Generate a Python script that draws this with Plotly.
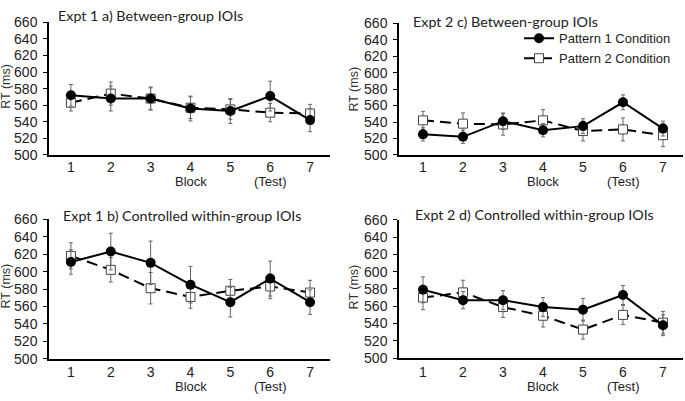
import plotly.graph_objects as go

blocks = [1, 2, 3, 4, 5, 6, 7]
tick_labels = ["1", "2", "3", "4", "5", "6", "7"]
sub_labels = [(4, "Block"), (6, "(Test)")]
y_ticks = [500, 520, 540, 560, 580, 600, 620, 640, 660]

# Expt 1 a) Between-group IOIs
a_p1 = [572, 568, 568, 556, 553, 571, 542]
a_p1_err = [13, 15, 14, 15, 15, 18, 14]
a_p2 = [563, 574, 568, 557, 555, 551, 550]
a_p2_err = [10, 14, 13, 13, 12, 11, 11]

# Expt 2 c) Between-group IOIs
c_p1 = [525, 522, 541, 530, 535, 564, 532]
c_p1_err = [8, 8, 10, 8, 9, 9, 9]
c_p2 = [542, 538, 537, 542, 529, 531, 524]
c_p2_err = [11, 13, 13, 13, 12, 14, 14]

# Expt 1 b) Controlled within-group IOIs
b_p1 = [611, 623, 610, 585, 565, 592, 565]
b_p1_err = [14, 21, 25, 21, 17, 20, 14]
b_p2 = [618, 602, 581, 571, 578, 583, 576]
b_p2_err = [15, 14, 18, 13, 13, 14, 14]

# Expt 2 d) Controlled within-group IOIs
d_p1 = [579, 567, 567, 559, 556, 573, 538]
d_p1_err = [15, 10, 11, 11, 13, 11, 12]
d_p2 = [570, 576, 559, 549, 533, 550, 541]
d_p2_err = [14, 14, 12, 13, 11, 11, 13]

panel_titles = ["Expt 1 a) Between-group IOIs", "Expt 2 c) Between-group IOIs",
                "Expt 1 b) Controlled within-group IOIs", "Expt 2 d) Controlled within-group IOIs"]
series_names = ["Pattern 1 Condition", "Pattern 2 Condition"]

W, H = 685, 401
panels = [
    (a_p1, a_p1_err, a_p2, a_p2_err),
    (c_p1, c_p1_err, c_p2, c_p2_err),
    (b_p1, b_p1_err, b_p2, b_p2_err),
    (d_p1, d_p1_err, d_p2, d_p2_err),
]
# pixel boxes: (left, right, top, bottom)
boxes = [(49, 330, 15, 153), (399, 683, 16, 153), (49, 330, 220, 365.5), (399, 683, 220.5, 364.7)]
xranges = [[0.45, 7.5], [0.4, 7.5], [0.45, 7.5], [0.4, 7.5]]
title_pos = [(56, 7.5), (411, 14), (61, 216.5), (413, 215.5)]
ytitle_pos = [(6, 82), (354, 85), (6, 290), (354, 291)]
sub_y = [180.5, 180.5, 394.5, 394.5]
tick_standoff = [-1, -1, 0, 0]

fig = go.Figure()
layout = {}
annotations = []
for i, (p1, p1e, p2, p2e) in enumerate(panels):
    n = "" if i == 0 else str(i + 1)
    xa, ya = "x" + n, "y" + n
    fig.add_trace(go.Scatter(
        x=blocks, y=p2, name=series_names[1], xaxis=xa, yaxis=ya,
        mode="lines+markers", showlegend=(i == 1), legendrank=2,
        line=dict(color="black", width=2, dash="11px,6px"),
        marker=dict(symbol="square", size=9, color="white", line=dict(color="#444", width=1)),
        error_y=dict(type="data", array=p2e, visible=True, color="#666", thickness=1, width=2),
    ))
    fig.add_trace(go.Scatter(
        x=blocks, y=p1, name=series_names[0], xaxis=xa, yaxis=ya,
        mode="lines+markers", showlegend=(i == 1), legendrank=1,
        line=dict(color="black", width=2),
        marker=dict(symbol="circle", size=10, color="black"),
        error_y=dict(type="data", array=p1e, visible=True, color="#666", thickness=1, width=2),
    ))
    l, r, t, b = boxes[i]
    layout["xaxis" + n] = dict(
        domain=[l / W, r / W], anchor=ya, range=xranges[i],
        tickvals=blocks, ticktext=tick_labels, showline=True, linecolor="black",
        linewidth=1.5, ticks="", showgrid=False, zeroline=False,
        ticklabelstandoff=tick_standoff[i],
        tickfont=dict(family="Liberation Sans, Arial", size=14, color="#222"),
    )
    layout["yaxis" + n] = dict(
        domain=[1 - b / H, 1 - t / H], anchor=xa, range=[500, 660],
        tickvals=y_ticks, showline=True, linecolor="black", linewidth=1.5,
        ticks="outside", ticklen=4, tickcolor="black", showgrid=False, zeroline=False,
        ticklabelstandoff=3,
        tickfont=dict(family="Liberation Sans, Arial", size=14, color="#222"),
    )
    tx, ty = title_pos[i]
    annotations.append(dict(
        text=panel_titles[i], x=tx / W, y=1 - ty / H, xref="paper", yref="paper",
        xanchor="left", yanchor="middle", showarrow=False,
        font=dict(family="Lato", size=14.3, color="#222"),
    ))
    yx, yy = ytitle_pos[i]
    annotations.append(dict(
        text="RT (ms)", x=yx / W, y=1 - yy / H, xref="paper", yref="paper",
        xanchor="center", yanchor="middle", showarrow=False, textangle=-90,
        font=dict(family="Liberation Sans, Arial", size=12.5, color="#333"),
    ))
    for bx, txt in sub_labels:
        annotations.append(dict(
            text=txt, x=bx, y=1 - sub_y[i] / H, xref=xa, yref="paper",
            xanchor="center", yanchor="middle", showarrow=False,
            font=dict(family="Liberation Sans, Arial", size=13, color="#222"),
        ))

fig.update_layout(
    width=W, height=H, margin=dict(l=0, r=0, t=0, b=0),
    paper_bgcolor="white", plot_bgcolor="white",
    showlegend=True,
    legend=dict(x=519 / W, y=1 - 16 / H, xanchor="left", yanchor="top",
                bgcolor="rgba(0,0,0,0)", itemwidth=30, tracegroupgap=0,
                font=dict(family="Liberation Sans, Arial", size=13, color="#222")),
    annotations=annotations,
    **layout,
)
fig.write_html("out.html", config={"displayModeBar": False},
               post_script="document.body.style.margin='0';")
